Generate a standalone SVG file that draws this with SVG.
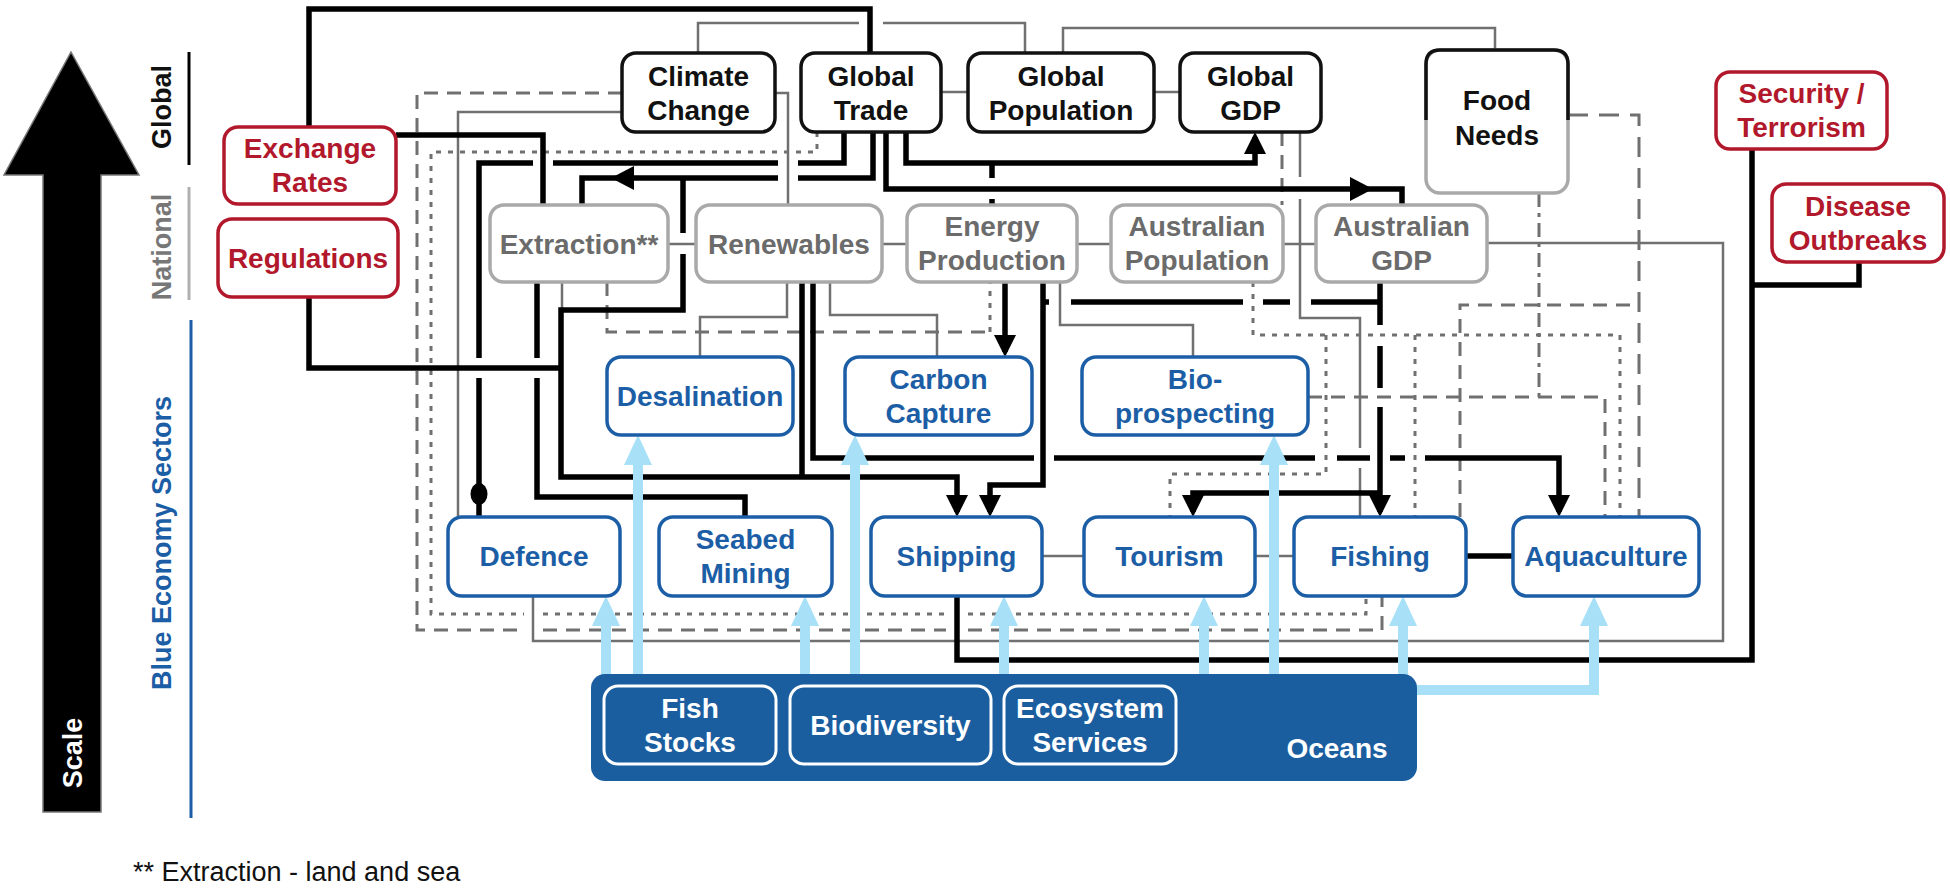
<svg xmlns="http://www.w3.org/2000/svg" width="1950" height="890" viewBox="0 0 1950 890">
<defs>
<style>
.t{font-family:"Liberation Sans",Arial,Helvetica,sans-serif;font-weight:bold;font-size:28px;text-anchor:middle}
.ax{font-family:"Liberation Sans",Arial,Helvetica,sans-serif;font-weight:bold;font-size:27px;text-anchor:middle}
.tk{fill:#111}.tr{fill:#b2182b}.tg{fill:#6b6b6b}.tb{fill:#1c5ea6}.tw{fill:#fff}
.nk{fill:#fff;stroke:#111;stroke-width:3.5}
.nr{fill:#fff;stroke:#b2182b;stroke-width:3.5}
.ng{fill:#fff;stroke:#a9a9a9;stroke-width:3.5}
.nb{fill:#fff;stroke:#1c5ea6;stroke-width:3.5}
.ni{fill:#1b5e9f;stroke:#fff;stroke-width:3}
.c{fill:none}
.k{stroke:#000;stroke-width:5.5}
.g{stroke:#707070;stroke-width:2.5}
.gd{stroke:#707070;stroke-width:3;stroke-dasharray:14 9}
.gl{stroke:#707070;stroke-width:3;stroke-dasharray:20 11}
.go{stroke:#707070;stroke-width:3;stroke-dasharray:5 7}
.gdd{stroke:#707070;stroke-width:3;stroke-dasharray:14 6 4 6}
.lb{stroke:#a8e1f7;stroke-width:10}
</style>
<marker id="ak" viewBox="0 0 22 22" markerWidth="22" markerHeight="22" refX="17" refY="11" orient="auto" markerUnits="userSpaceOnUse"><path d="M0,0 L22,11 L0,22 z" fill="#000"/></marker>
<marker id="ab" viewBox="0 0 30 28" markerWidth="30" markerHeight="28" refX="19" refY="14" orient="auto" markerUnits="userSpaceOnUse"><path d="M0,0 L30,14 L0,28 z" fill="#a8e1f7"/></marker>
</defs>
<rect x="0" y="0" width="1950" height="890" fill="#fff"/>

<g id="scale-axis">
<polygon points="71,52 139,175 101,175 101,812 43,812 43,175 4,175" fill="#000" stroke="#777" stroke-width="1.5"/>
<text class="ax tw" transform="translate(82,753) rotate(-90)">Scale</text>
<text class="ax tk" transform="translate(171,107) rotate(-90)">Global</text>
<text class="ax" fill="#777" transform="translate(171,247) rotate(-90)">National</text>
<text class="ax tb" transform="translate(171,543) rotate(-90)">Blue Economy Sectors</text>
<line x1="189" y1="52" x2="189" y2="165" stroke="#000" stroke-width="3"/>
<line x1="189" y1="187" x2="189" y2="300" stroke="#b0b0b0" stroke-width="3"/>
<line x1="191" y1="320" x2="191" y2="818" stroke="#1c5ea6" stroke-width="3"/>
</g>

<g id="connectors" class="c">
<g id="grey-dashed">
<path class="gd" d="M622,93 H417 V630 H524 M543,630 H946 M968,630 H1382 V596"/>
<path class="gd" d="M607,282 V332 H990"/>
<path class="gd" d="M1282,132 V205"/>
<path class="gdd" d="M1539,193 V397"/>
<path class="gd" d="M1460,517 V305 H1639"/>
<path class="gd" d="M1308,397 H1605 V517"/>
<path class="gl" d="M1568,115 H1639 V517"/>
</g>
<g id="grey-dotted">
<path class="go" d="M817,132 V152 H431 V614 H524 M543,614 H946 M968,614 H1366 V596"/>
<path class="go" d="M990,332 V282"/>
<path class="go" d="M1253,282 V335 H1620 V517"/>
<path class="go" d="M1326,335 V474 H1170 V517"/>
<path class="go" d="M1415,335 V517"/>
</g>
<g id="grey-solid">
<path class="g" d="M622,112 H458 V517"/>
<path class="g" d="M668,244 H696 M882,244 H907 M1077,244 H1111 M1283,244 H1316"/>
<path class="g" d="M941,92 H968 M1154,92 H1180"/>
<path class="g" d="M1042,556 H1084 M1255,556 H1294"/>
<path class="g" d="M787,282 V317 H700 V357"/>
<path class="g" d="M830,282 V315 H937 V357"/>
<path class="g" d="M775,93 H788 V205"/>
<path class="g" d="M698,53 V23 H859 M883,23 H1025 V53"/>
<path class="g" d="M1063,53 V28 H1495 V50"/>
<path class="g" d="M1060,282 V325 H1193 V357"/>
<path class="g" d="M1300,132 V177 M1300,199 V318 H1360 V448 M1360,468 V517"/>
<path class="g" d="M533,596 V641 H1723 V243 H1487"/>
<path class="g" d="M562,282 V310"/>
</g>
<g id="black">
<path class="k" d="M309,127 V9 H870 V53"/>
<path class="k" d="M396,135 H543 V205"/>
<path class="k" d="M844,132 V163 H798 M778,163 H553 M533,163 H479 V358 M479,378 V517"/>
<ellipse cx="479" cy="494" rx="8.5" ry="11" fill="#000"/>
<path class="k" d="M873,132 V178 H798 M778,178 H582 V205"/>
<polygon points="611,178 634,166 634,190" fill="#000"/>
<path class="k" d="M683,178 V233 M683,254 V310 H561 V477 H957 V512" marker-end="url(#ak)"/>
<path class="k" d="M309,297 V368 H561"/>
<path class="k" d="M537,282 V358 M537,378 V497 H745 V517"/>
<path class="k" d="M802,282 V477"/>
<path class="k" d="M813,282 V458 H1034 M1054,458 H1315 M1337,458 H1370 M1390,458 H1405 M1425,458 H1559 V512" marker-end="url(#ak)"/>
<path class="k" d="M1005,282 V352" marker-end="url(#ak)"/>
<path class="k" d="M1043,282 V485 H990 V512" marker-end="url(#ak)"/>
<path class="k" d="M1380,282 V325 M1380,346 V388 M1380,407 V512" marker-end="url(#ak)"/>
<path class="k" d="M1380,493 H1193 V512" marker-end="url(#ak)"/>
<path class="k" d="M1043,302 H1049 M1071,302 H1243 M1263,302 H1290 M1311,302 H1380"/>
<path class="k" d="M992,163 V178 M992,199 V205"/>
<path class="k" d="M906,132 V163 H1255 V137" marker-end="url(#ak)"/>
<path class="k" d="M886,132 V189 H1402 V205"/>
<polygon points="1373,189 1350,177 1350,201" fill="#000"/>
<path class="k" d="M957,596 V660 H1752 V149"/>
<path class="k" d="M1859,262 V285 H1752"/>
<path class="k" d="M1466,556 H1513"/>
</g>
<g id="ocean-flows">
<path class="lb" d="M606,680 V607" marker-end="url(#ab)"/>
<path class="lb" d="M638,680 V446" marker-end="url(#ab)"/>
<path class="lb" d="M805,680 V607" marker-end="url(#ab)"/>
<path class="lb" d="M855,680 V446" marker-end="url(#ab)"/>
<path class="lb" d="M1004,680 V607" marker-end="url(#ab)"/>
<path class="lb" d="M1204,680 V607" marker-end="url(#ab)"/>
<path class="lb" d="M1274,680 V446" marker-end="url(#ab)"/>
<path class="lb" d="M1403,680 V607" marker-end="url(#ab)"/>
<path class="lb" d="M1405,690 H1594 V607" marker-end="url(#ab)"/>
</g>
</g>

<g id="climate-change"><rect class="nk" x="622" y="53" width="153" height="79" rx="14"/><text class="t tk" x="698.5" y="85.5">Climate</text><text class="t tk" x="698.5" y="119.5">Change</text></g>
<g id="global-trade"><rect class="nk" x="801" y="53" width="140" height="79" rx="14"/><text class="t tk" x="871" y="85.5">Global</text><text class="t tk" x="871" y="119.5">Trade</text></g>
<g id="global-population"><rect class="nk" x="968" y="53" width="186" height="79" rx="14"/><text class="t tk" x="1061" y="85.5">Global</text><text class="t tk" x="1061" y="119.5">Population</text></g>
<g id="global-gdp"><rect class="nk" x="1180" y="53" width="141" height="79" rx="14"/><text class="t tk" x="1250.5" y="85.5">Global</text><text class="t tk" x="1250.5" y="119.5">GDP</text></g>
<g id="food-needs"><rect class="ng" x="1426" y="50" width="142" height="143" rx="14"/><path d="M1426,120 V64 Q1426,50 1440,50 H1554 Q1568,50 1568,64 V120" fill="none" stroke="#111" stroke-width="3.5"/><text class="t tk" x="1497" y="110">Food</text><text class="t tk" x="1497" y="145">Needs</text></g>

<g id="exchange-rates"><rect class="nr" x="224" y="127" width="172" height="77" rx="14"/><text class="t tr" x="310" y="158">Exchange</text><text class="t tr" x="310" y="192">Rates</text></g>
<g id="regulations"><rect class="nr" x="218" y="219" width="180" height="78" rx="14"/><text class="t tr" x="308" y="268">Regulations</text></g>
<g id="security-terrorism"><rect class="nr" x="1716" y="72" width="171" height="77" rx="14"/><text class="t tr" x="1801.5" y="103">Security /</text><text class="t tr" x="1801.5" y="137">Terrorism</text></g>
<g id="disease-outbreaks"><rect class="nr" x="1772" y="184" width="172" height="78" rx="14"/><text class="t tr" x="1858" y="216">Disease</text><text class="t tr" x="1858" y="250">Outbreaks</text></g>

<g id="extraction"><rect class="ng" x="490" y="205" width="178" height="77" rx="14"/><text class="t tg" x="579" y="253.5">Extraction**</text></g>
<g id="renewables"><rect class="ng" x="696" y="205" width="186" height="77" rx="14"/><text class="t tg" x="789" y="253.5">Renewables</text></g>
<g id="energy-production"><rect class="ng" x="907" y="205" width="170" height="77" rx="14"/><text class="t tg" x="992" y="236">Energy</text><text class="t tg" x="992" y="270">Production</text></g>
<g id="australian-population"><rect class="ng" x="1111" y="205" width="172" height="77" rx="14"/><text class="t tg" x="1197" y="236">Australian</text><text class="t tg" x="1197" y="270">Population</text></g>
<g id="australian-gdp"><rect class="ng" x="1316" y="205" width="171" height="77" rx="14"/><text class="t tg" x="1401.5" y="236">Australian</text><text class="t tg" x="1401.5" y="270">GDP</text></g>

<g id="desalination"><rect class="nb" x="607" y="357" width="186" height="78" rx="14"/><text class="t tb" x="700" y="406">Desalination</text></g>
<g id="carbon-capture"><rect class="nb" x="845" y="357" width="187" height="78" rx="14"/><text class="t tb" x="938.5" y="389">Carbon</text><text class="t tb" x="938.5" y="423">Capture</text></g>
<g id="bioprospecting"><rect class="nb" x="1082" y="357" width="226" height="78" rx="14"/><text class="t tb" x="1195" y="389">Bio-</text><text class="t tb" x="1195" y="423">prospecting</text></g>

<g id="defence"><rect class="nb" x="448" y="517" width="172" height="79" rx="14"/><text class="t tb" x="534" y="566">Defence</text></g>
<g id="seabed-mining"><rect class="nb" x="659" y="517" width="173" height="79" rx="14"/><text class="t tb" x="745.5" y="549">Seabed</text><text class="t tb" x="745.5" y="583">Mining</text></g>
<g id="shipping"><rect class="nb" x="871" y="517" width="171" height="79" rx="14"/><text class="t tb" x="956.5" y="566">Shipping</text></g>
<g id="tourism"><rect class="nb" x="1084" y="517" width="171" height="79" rx="14"/><text class="t tb" x="1169.5" y="566">Tourism</text></g>
<g id="fishing"><rect class="nb" x="1294" y="517" width="172" height="79" rx="14"/><text class="t tb" x="1380" y="566">Fishing</text></g>
<g id="aquaculture"><rect class="nb" x="1513" y="517" width="186" height="79" rx="14"/><text class="t tb" x="1606" y="566">Aquaculture</text></g>

<g id="oceans"><rect x="591" y="674" width="826" height="107" rx="14" fill="#1b5e9f"/><text class="t tw" x="1337" y="758">Oceans</text></g>
<g id="fish-stocks"><rect class="ni" x="604" y="686" width="172" height="78" rx="14"/><text class="t tw" x="690" y="718">Fish</text><text class="t tw" x="690" y="752">Stocks</text></g>
<g id="biodiversity"><rect class="ni" x="790" y="686" width="201" height="78" rx="14"/><text class="t tw" x="890.5" y="735">Biodiversity</text></g>
<g id="ecosystem-services"><rect class="ni" x="1004" y="686" width="172" height="78" rx="14"/><text class="t tw" x="1090" y="718">Ecosystem</text><text class="t tw" x="1090" y="752">Services</text></g>

<text x="133" y="881" font-family="Liberation Sans, Arial, sans-serif" font-size="27" fill="#111">** Extraction - land and sea</text>
</svg>
